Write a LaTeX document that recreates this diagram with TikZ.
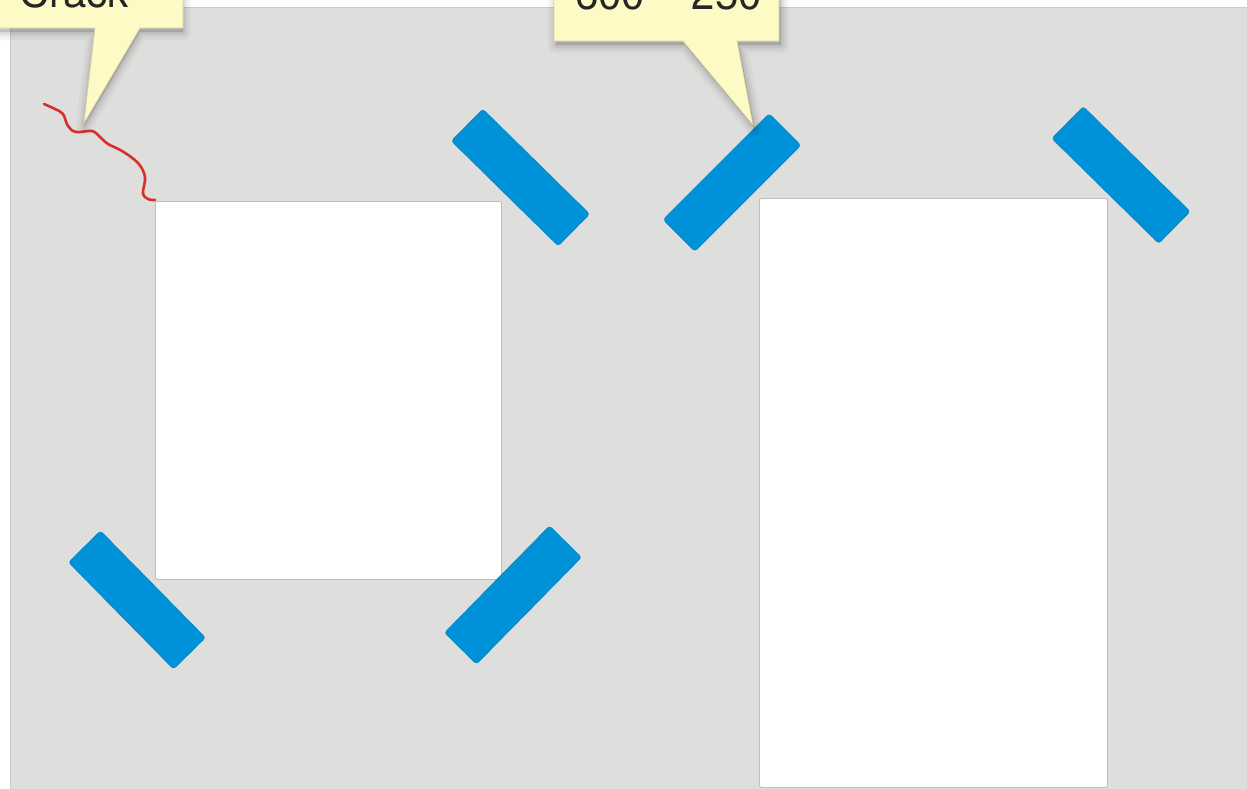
\documentclass[tikz,border=0pt]{standalone}
\usepackage{fontspec}
\setmainfont{TeX Gyre Heros}
\definecolor{panelgrey}{HTML}{DEDEDC}
\definecolor{panelline}{HTML}{CBCBCB}
\definecolor{sheetline}{HTML}{BDBDBD}
\definecolor{barblue}{HTML}{0092D9}
\definecolor{crackred}{HTML}{D7302C}
\definecolor{noteyellow}{HTML}{FEFAC6}
\definecolor{noteline}{HTML}{D9D3A6}
\tikzset{
  sheet/.style={draw=sheetline, line width=0.8pt, fill=white, rounded corners=1.5pt},
  bar/.style={fill=barblue, draw=barblue!85!black, line width=0.3pt, rounded corners=3pt,
    minimum width=150pt, minimum height=45pt, inner sep=0pt, outer sep=0pt},
  note/.style={fill=noteyellow, draw=noteline, line width=0.6pt, line join=miter},
  noteshade/.style={draw=black, fill=black, line join=round},
  notetext/.style={font=\fontsize{42}{46}\selectfont, text=black!85, anchor=base west, inner sep=0pt},
  crack/.style={draw=crackred, line width=2.6pt, line cap=round, line join=round}
}
\begin{document}
\begin{tikzpicture}[x=1pt, y=-1pt]
\useasboundingbox (0,0) rectangle (1247,788);
\clip (0,0) rectangle (1247,788);
\fill[white] (0,0) rectangle (1247,788);
% panel
\draw[fill=panelgrey, draw=panelline, line width=1pt] (10,7) rectangle (1260,800);
% sheets
\node[sheet, minimum width=346pt, minimum height=378pt, anchor=north west, inner sep=0pt] (sheetL) at (155,201) {};
\node[sheet, minimum width=348pt, minimum height=589pt, anchor=north west, inner sep=0pt] (sheetR) at (759,198) {};
% bars
\node[bar, rotate=-44.5] (barA) at (520.5,177.5) {};
\node[bar, rotate=45] (barB) at (732,182.5) {};
\node[bar, rotate=-44.5] (barC) at (1121,175) {};
\node[bar, rotate=-45.5] (barD) at (137,600) {};
\node[bar, rotate=45.5] (barE) at (513,595) {};
% crack
\coordinate (crackS) at (44,104);
\coordinate (crackE) at (155,200);
\draw[crack] plot[smooth, tension=0.6] coordinates {(44,104) (55,109) (63,114) (68,126) (76,132) (92,131) (100,137) (108,144) (122,151) (138,163) (145,177) (143,193) (148,199) (155,200)};
% callout shadows (soft)
\foreach \w/\o in {16/0.035, 10/0.045, 5/0.06} {
  \draw[noteshade, line width=\w pt, opacity=\o, yshift=-4pt] (-5,-60) -- (183,-60) -- (183,28) -- (140,28) -- (84,123) -- (95,28) -- (-5,28) -- cycle;
  \draw[noteshade, line width=\w pt, opacity=\o, yshift=-4pt, xshift=2pt] (554,-60) -- (779,-60) -- (779,41) -- (737,41) -- (753,125) -- (683,41) -- (554,41) -- cycle;
}
% callouts
\draw[note] (-5,-60) -- (183,-60) -- (183,28) -- (140,28) -- (84,123) -- (95,28) -- (-5,28) -- cycle;
\node[notetext] (crackLabel) at (19,7) {Crack};
\draw[note] (554,-60) -- (779,-60) -- (779,41) -- (737,41) -- (753,125) -- (683,41) -- (554,41) -- cycle;
\node[notetext] (sizeLabel) at (575,9) {600 – 250};
\end{tikzpicture}
\end{document}
